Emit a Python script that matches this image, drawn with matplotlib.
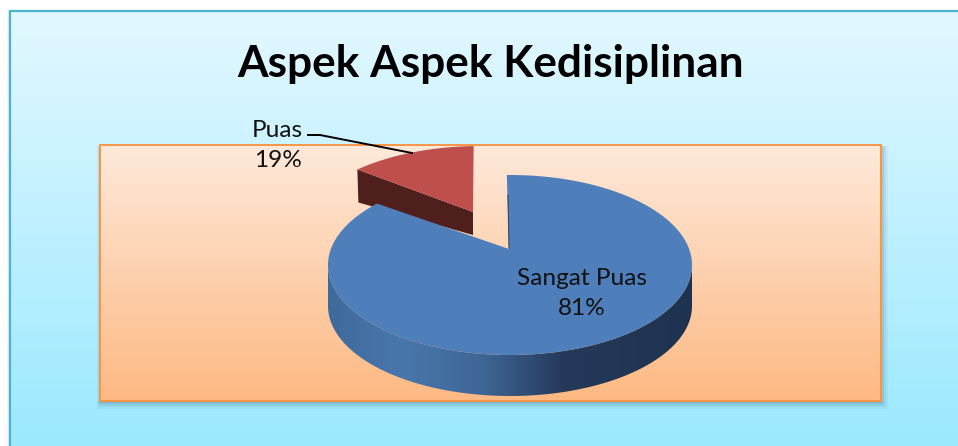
import numpy as np
import matplotlib
matplotlib.use("Agg")
import matplotlib.pyplot as plt
from matplotlib.colors import LinearSegmentedColormap as LSC
from matplotlib.patches import Rectangle, Polygon

title = "Aspek Aspek Kedisiplinan"
categories = ["Sangat Puas", "Puas"]
values = [81, 19]

plt.rcParams['font.family'] = ['Lato', 'DejaVu Sans']
W, H = 958, 446
fig = plt.figure(figsize=(W / 100, H / 100), dpi=100, facecolor='white')
ax = fig.add_axes([0, 0, 1, 1])
ax.axis('off')


def vgrad(x0, x1, y0, y1, c0, c1, z):
    cmap = LSC.from_list('g', [c0, c1])
    return ax.imshow(np.linspace(0, 1, 256)[:, None], extent=(x0, x1, y1, y0),
                     cmap=cmap, aspect='auto', zorder=z, interpolation='bilinear')


# panel shadow on the left
for i, a in enumerate([0.05, 0.08, 0.12]):
    ax.add_patch(Rectangle((7 + i, 11), 4, H, fc='#555555', ec='none', alpha=a, zorder=0.5))
# panel
vgrad(11, W, 11, H, '#e3f8ff', '#9be9ff', 1)
ax.plot([10.5, 10.5, W], [H, 10.5, 10.5], color='#4ab4d3', lw=1.6, zorder=1.2, solid_joinstyle='miter')

# plot area shadow
for g, a in [(7, 0.06), (5, 0.08), (3, 0.12), (1.5, 0.16)]:
    ax.add_patch(Rectangle((100 - g * 0.4, 146), 781 + g * 1.4, 255 + g * 1.2,
                           fc='#3a5a6a', ec='none', alpha=a, zorder=1.5))
# plot area
vgrad(100, 881, 145, 401, '#fee9da', '#fdb983', 2)
ax.add_patch(Rectangle((100, 144.5), 781, 256, fc='none', ec='#f79646', lw=1.4, zorder=2.1))

# pie geometry
cx, cy, rx, ry = 510, 265, 182, 90
depth = 41
apex = (509, 249)
shift = (-30, -29)
display_scale = [1.077, 0.59]   # how the 3-D perspective stretches each slice


def ell(phi, ox=0, oy=0):
    p = np.radians(phi)
    return cx + ox + rx * np.cos(p), cy + oy - ry * np.sin(p)


blue_start = 91
blue_sweep = values[0] * 3.6 * display_scale[0]
red_sweep = values[1] * 3.6 * display_scale[1]

# red slice: side first, top afterwards
red_start = 90 + 2
red_end = red_start + red_sweep
rax, ray = 473, 212
lx, ly = ell(red_end, *shift)
ax.add_patch(Polygon([(lx, ly), (rax, ray), (rax, ray + 23), (lx + 1, ly + 33)],
                     closed=True, fc='#4f1f1e', ec='none', zorder=3))
ph = np.linspace(red_start, red_end, 60)
xr, yr = ell(ph, *shift)
ax.fill(np.r_[rax, xr], np.r_[ray, yr], color='#be4f4c', lw=0, zorder=3.2)

# blue side with horizontal shading
ph = np.linspace(180, 360, 160)
xb, yb = ell(ph)
side = Polygon(np.c_[np.r_[xb, xb[::-1]], np.r_[yb, yb[::-1] + depth]], closed=True,
               fc='none', ec='none', transform=ax.transData)
ax.add_patch(side)
cmap = LSC.from_list('s', [(0, '#3f6a9c'), (0.2, '#4976ac'), (0.42, '#3f6796'),
                           (0.65, '#25395a'), (1, '#1e3350')])
im = ax.imshow(np.linspace(0, 1, 256)[None, :], extent=(cx - rx, cx + rx, 400, 260),
               cmap=cmap, aspect='auto', zorder=3.4)
im.set_clip_path(side)

# blue top
ph = np.linspace(blue_start, blue_start - blue_sweep, 300)
xt, yt = ell(ph)
ax.fill(np.r_[apex[0], xt], np.r_[apex[1], yt], color='#4f7fba', lw=0, zorder=3.6)
ax.plot([508, 509], [195, 248], color='#2f4a6c', lw=0.8, zorder=3.7)

# labels and leader
ax.plot([308, 320, 412], [135, 135, 153], color='black', lw=1.4, zorder=4)
ax.text(582, 293.5, f"{categories[0]}\n{values[0]}%", ha='center', va='center',
        fontsize=17.6, linespacing=1.5, color='#111111', zorder=5)
ax.text(277.5, 145.5, f"{categories[1]}\n{values[1]}%", ha='center', va='center',
        fontsize=17.6, linespacing=1.5, color='#111111', zorder=5)
ax.text(490.5, 64, title, ha='center', va='center', fontsize=31.8, fontweight='bold',
        color='black', zorder=5)

ax.set_xlim(0, W)
ax.set_ylim(H, 0)
fig.savefig('out.png', dpi=100)
